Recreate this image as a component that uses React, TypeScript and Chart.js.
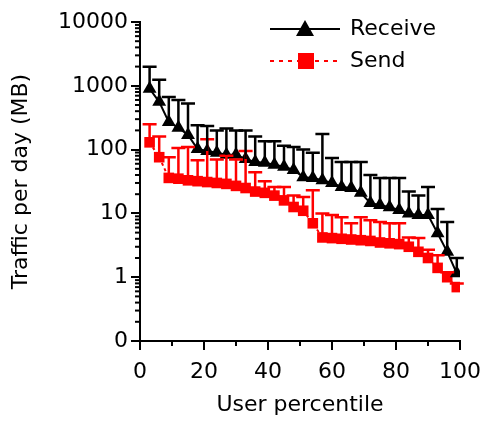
import React, { useEffect, useRef } from "react";
import { Chart, registerables } from "chart.js";
Chart.register(...registerables);

const percentiles = Array.from({ length: 33 }, (_, i) => (i + 1) * 3);
const receive = [900, 560, 270, 220, 170, 102, 95, 89, 83, 83, 71, 64, 62, 58, 54, 48, 37, 36, 33, 30, 26, 25, 21, 14.5, 13.5, 12.5, 11.3, 10, 9.4, 9.4, 4.9, 2.5, 1.15];
const receiveTop = [1990, 1240, 670, 600, 530, 240, 235, 200, 215, 200, 200, 160, 135, 135, 115, 110, 100, 89, 175, 74, 64, 64, 64, 40, 36, 36, 36, 22, 19, 26, 11.7, 7.3, 2];
const send = [130, 76, 36, 35, 33, 32, 31, 30, 29, 27, 25, 22, 21, 19, 16, 12.6, 11, 7, 4.2, 4.1, 4.0, 3.9, 3.8, 3.7, 3.5, 3.4, 3.3, 3.0, 2.5, 2.0, 1.4, 1.0, 0.7];
const sendTop = [250, 160, 76, 106, 110, 68, 145, 70, 80, 70, 95, 44, 32, 26, 26, 19, 18, 23, 10, 9.4, 8.7, 7, 8.7, 7.8, 7.3, 7, 7, 4.2, 4.1, 2.7, 2.2, 1.2, 0.8];
const yTicks = [0.1, 1, 10, 100, 1000, 10000];
const xTicks = [0, 20, 40, 60, 80, 100];

const FONT = "'DejaVu Sans', sans-serif";
const FS = 22;

export default function App() {
  const ref = useRef<HTMLCanvasElement>(null);
  useEffect(() => {
    document.body.style.margin = "0";
    const errPlugin = {
      id: "err",
      afterDatasetsDraw(chart: any) {
        const ctx = chart.ctx;
        const x = chart.scales.x, y = chart.scales.y;
        const tops = [receiveTop, sendTop];
        const vals = [receive, send];
        const cols = ["#000", "#ff0000"];
        ctx.save();
        for (let d = 1; d >= 0; d--) {
          ctx.strokeStyle = cols[d];
          ctx.lineWidth = 2.5;
          percentiles.forEach((p, i) => {
            const px = x.getPixelForValue(p);
            const y0 = y.getPixelForValue(vals[d][i]);
            const y1 = y.getPixelForValue(tops[d][i]);
            ctx.beginPath();
            ctx.moveTo(px, y0);
            ctx.lineTo(px, y1);
            ctx.moveTo(px - 7, y1);
            ctx.lineTo(px + 7, y1);
            ctx.stroke();
          });
        }
        ctx.strokeStyle = "#000";
        ctx.lineWidth = 2;
        for (let e = -1; e < 4; e++) {
          for (let m = 2; m <= 9; m++) {
            const py = y.getPixelForValue(m * Math.pow(10, e));
            ctx.beginPath();
            ctx.moveTo(x.left, py);
            ctx.lineTo(x.left - 5, py);
            ctx.stroke();
          }
        }
        for (let v = 10; v < 100; v += 20) {
          const px = x.getPixelForValue(v);
          ctx.beginPath();
          ctx.moveTo(px, y.bottom);
          ctx.lineTo(px, y.bottom + 5);
          ctx.stroke();
        }
        ctx.font = FS + "px " + FONT;
        ctx.textBaseline = "middle";
        const lx = 270, ly1 = 29, ly2 = 61;
        ctx.strokeStyle = "#000";
        ctx.lineWidth = 2;
        ctx.beginPath(); ctx.moveTo(lx, ly1); ctx.lineTo(lx + 70, ly1); ctx.stroke();
        ctx.fillStyle = "#000";
        ctx.beginPath(); ctx.moveTo(lx + 35, ly1 - 9); ctx.lineTo(lx + 44, ly1 + 7); ctx.lineTo(lx + 26, ly1 + 7); ctx.closePath(); ctx.fill();
        ctx.fillText("Receive", lx + 80, ly1);
        ctx.strokeStyle = "#ff0000";
        ctx.setLineDash([4, 5]);
        ctx.beginPath(); ctx.moveTo(lx, ly2); ctx.lineTo(lx + 70, ly2); ctx.stroke();
        ctx.setLineDash([]);
        ctx.fillStyle = "#ff0000";
        ctx.fillRect(lx + 28, ly2 - 8, 16, 16);
        ctx.fillStyle = "#000";
        ctx.fillText("Send", lx + 80, ly2);
        ctx.restore();
      },
    };
    const axisCommon = {
      grid: { drawOnChartArea: false, drawTicks: true, tickLength: 9, color: "#000", lineWidth: 2 },
      border: { color: "#000", width: 2 },
    };
    const chart = new Chart(ref.current!, {
      type: "line",
      data: {
        datasets: [
          {
            label: "Receive",
            data: percentiles.map((p, i) => ({ x: p, y: receive[i] })),
            borderColor: "#000",
            backgroundColor: "#000",
            borderWidth: 2,
            pointStyle: "triangle",
            pointRadius: 8,
            pointBorderWidth: 0,
          },
          {
            label: "Send",
            data: percentiles.map((p, i) => ({ x: p, y: send[i] })),
            borderColor: "#ff0000",
            backgroundColor: "#ff0000",
            borderWidth: 2,
            borderDash: [3, 3],
            pointStyle: "rect",
            pointRadius: 7.5,
            pointBorderWidth: 0,
          },
        ],
      },
      options: {
        animation: false,
        responsive: false,
        layout: { padding: { top: 22, right: 0, left: 0, bottom: 0 } },
        plugins: { legend: { display: false }, tooltip: { enabled: false } },
        scales: {
          x: {
            type: "linear",
            min: 0,
            max: 100,
            afterBuildTicks: (s: any) => { s.ticks = xTicks.map((v) => ({ value: v })); },
            afterFit: (s: any) => { s.height = 81; s.paddingRight = 22; },
            ...axisCommon,
            ticks: { color: "#000", font: { size: FS, family: FONT }, padding: 9 },
            title: { display: true, text: "User percentile", color: "#000", font: { size: FS, family: FONT }, padding: { top: 10 } },
          },
          y: {
            type: "logarithmic",
            min: 0.1,
            max: 10000,
            afterBuildTicks: (s: any) => { s.ticks = yTicks.map((v) => ({ value: v })); },
            afterFit: (s: any) => { s.width = 140; },
            ...axisCommon,
            ticks: {
              color: "#000",
              font: { size: FS, family: FONT },
              padding: 3,
              callback: (v: any) => (v === 0.1 ? "0" : String(v)),
            },
            title: { display: true, text: "Traffic per day (MB)", color: "#000", font: { size: FS, family: FONT }, padding: { top: 8, bottom: 4 } },
          },
        },
      },
      plugins: [errPlugin],
    });
    return () => chart.destroy();
  }, []);
  return (
    <div style={{ width: 482, height: 422 }}>
      <canvas ref={ref} width={482} height={422} style={{ width: 482, height: 422 }} />
    </div>
  );
}
